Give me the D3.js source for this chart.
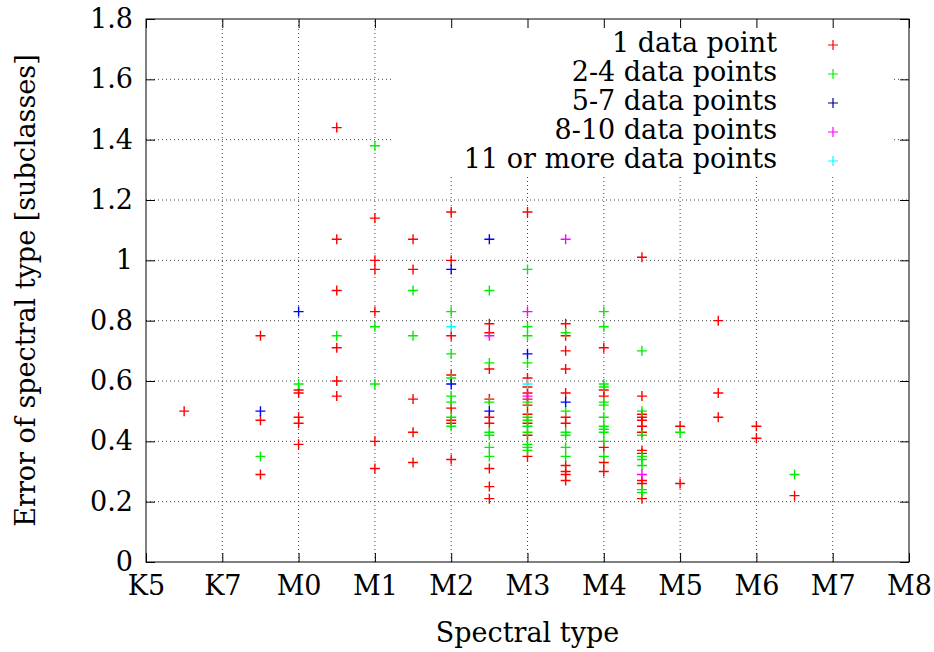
<!DOCTYPE html>
<html><head><meta charset="utf-8">
<script src="https://cdn.jsdelivr.net/npm/d3@7"></script>
<style>body{margin:0;background:#fff}</style>
</head><body>
<svg id="c" width="934" height="652"></svg>
<script>
// x values: spectral subclass relative to M0 (K5=-2, K7=-1, M0=0 ... M8=8)
const xTickValues = [-2,-1,0,1,2,3,4,5,6,7,8];
const xTickLabels = ["K5","K7","M0","M1","M2","M3","M4","M5","M6","M7","M8"];
const yTickValues = [0,0.2,0.4,0.6,0.8,1,1.2,1.4,1.6,1.8];
const seriesNames = ["1 data point","2-4 data points","5-7 data points","8-10 data points","11 or more data points"];
const seriesColors = ["#ff0000","#00ee00","#0000ff","#ff00ff","#00ffff"];
const legendColors = ["#ff0000","#00ee00","#00008b","#ff00ff","#00ffff"];

const onePoint = [
 [-1.5,0.50],
 [-0.5,0.75],[-0.5,0.47],[-0.5,0.29],
 [0,0.57],[0,0.56],[0,0.48],[0,0.46],[0,0.39],
 [0.5,1.44],[0.5,1.07],[0.5,0.90],[0.5,0.71],[0.5,0.60],[0.5,0.55],
 [1,1.14],[1,1.00],[1,0.97],[1,0.83],[1,0.40],[1,0.31],
 [1.5,1.07],[1.5,0.97],[1.5,0.54],[1.5,0.43],[1.5,0.33],
 [2,1.16],[2,1.00],[2,0.75],[2,0.62],[2,0.51],[2,0.47],[2,0.46],[2,0.34],
 [2.5,0.79],[2.5,0.76],[2.5,0.64],[2.5,0.54],[2.5,0.48],[2.5,0.46],[2.5,0.31],[2.5,0.25],[2.5,0.21],
 [3,1.16],[3,0.61],[3,0.58],[3,0.56],[3,0.54],[3,0.52],[3,0.49],[3,0.46],[3,0.42],[3,0.35],
 [3.5,0.79],[3.5,0.75],[3.5,0.70],[3.5,0.64],[3.5,0.56],[3.5,0.48],[3.5,0.46],[3.5,0.32],[3.5,0.30],[3.5,0.29],[3.5,0.27],
 [4,0.71],[4,0.57],[4,0.55],[4,0.38],[4,0.33],[4,0.30],
 [4.5,1.01],[4.5,0.55],[4.5,0.49],[4.5,0.48],[4.5,0.47],[4.5,0.45],[4.5,0.43],[4.5,0.37],[4.5,0.36],[4.5,0.27],[4.5,0.26],[4.5,0.21],
 [5,0.45],[5,0.26],
 [5.5,0.80],[5.5,0.56],[5.5,0.48],
 [6,0.45],[6,0.41],
 [6.5,0.22]
];
const twoToFour = [
 [-0.5,0.35],
 [0,0.59],
 [0.5,0.75],
 [1,1.38],[1,0.78],[1,0.59],
 [1.5,0.90],[1.5,0.75],
 [2,0.83],[2,0.69],[2,0.61],[2,0.55],[2,0.53],[2,0.48],[2,0.45],
 [2.5,0.90],[2.5,0.66],[2.5,0.53],[2.5,0.43],[2.5,0.42],[2.5,0.38],[2.5,0.35],
 [3,0.97],[3,0.78],[3,0.75],[3,0.66],[3,0.53],[3,0.48],[3,0.47],[3,0.45],[3,0.43],[3,0.39],[3,0.38],[3,0.37],
 [3.5,0.76],[3.5,0.50],[3.5,0.43],[3.5,0.42],[3.5,0.38],[3.5,0.35],
 [4,0.83],[4,0.78],[4,0.59],[4,0.58],[4,0.53],[4,0.52],[4,0.48],[4,0.45],[4,0.44],[4,0.43],[4,0.40],[4,0.35],
 [4.5,0.70],[4.5,0.50],[4.5,0.42],[4.5,0.35],[4.5,0.34],[4.5,0.32],[4.5,0.24],[4.5,0.23],
 [5,0.43],
 [6.5,0.29]
];
const fiveToSeven = [[-0.5,0.50],[0,0.83],[2,0.97],[2,0.59],[2.5,1.07],[2.5,0.50],[3,0.69],[3.5,0.53]];
const eightToTen = [[2.5,0.75],[3,0.83],[3,0.55],[3.5,1.07],[4.5,0.29]];
const elevenPlus = [[2,0.78],[3,0.59]];
const allSeries = [onePoint, twoToFour, fiveToSeven, eightToTen, elevenPlus];

const svg = d3.select("#c");
const L=146, R=909, T=19, B=562;
const x = d3.scaleLinear().domain([-2,8]).range([L,R]);
const y = d3.scaleLinear().domain([0,1.8]).range([B,T]);
const font = "DejaVu Serif";
const fs = 27;

// grid
const grid = svg.append("g").attr("stroke","#444").attr("stroke-width",1).attr("stroke-dasharray","1,3");
xTickValues.slice(1,-1).forEach(v=>grid.append("line").attr("x1",x(v)).attr("x2",x(v)).attr("y1",B).attr("y2",T));
yTickValues.slice(1,-1).forEach(v=>grid.append("line").attr("x1",L).attr("x2",R).attr("y1",y(v)).attr("y2",y(v)));
// legend background mask
svg.append("rect").attr("x",392).attr("y",T+1).attr("width",501).attr("height",154).attr("fill","#fff");

// axes
const tl = 9;
svg.append("g").attr("transform",`translate(0,${B})`)
  .call(d3.axisBottom(x).tickValues(xTickValues).tickFormat((d,i)=>xTickLabels[i]).tickSizeInner(-tl).tickSizeOuter(0).tickPadding(14));
svg.append("g").attr("transform",`translate(0,${T})`)
  .call(d3.axisTop(x).tickValues(xTickValues).tickFormat("").tickSizeInner(-tl).tickSizeOuter(0));
svg.append("g").attr("transform",`translate(${L},0)`)
  .call(d3.axisLeft(y).tickValues(yTickValues).tickFormat(d3.format("~g")).tickSizeInner(-tl).tickSizeOuter(0).tickPadding(13));
svg.append("g").attr("transform",`translate(${R},0)`)
  .call(d3.axisRight(y).tickValues(yTickValues).tickFormat("").tickSizeInner(-tl).tickSizeOuter(0));
svg.selectAll(".domain").remove();
svg.selectAll(".tick line").attr("stroke","#000");
svg.selectAll(".tick text").attr("font-family",font).attr("font-size",fs).attr("fill","#000");
svg.append("rect").attr("x",L).attr("y",T).attr("width",R-L).attr("height",B-T).attr("fill","none").attr("stroke","#000").attr("stroke-width",1);

// points
const plus = "M-5,0H5M0,-5V5";
allSeries.forEach((s,i)=>{
  svg.append("g").selectAll("path").data(s).join("path")
    .attr("d",plus).attr("transform",d=>`translate(${x(d[0])},${y(d[1])})`)
    .attr("stroke",seriesColors[i]).attr("stroke-width",1.4).attr("fill","none");
});

// legend
seriesNames.forEach((n,i)=>{
  const yy = 42 + i*29;
  svg.append("text").attr("x",777).attr("y",yy).attr("text-anchor","end").attr("dominant-baseline","central")
    .attr("font-family",font).attr("font-size",fs).text(n);
  svg.append("path").attr("d",plus).attr("transform",`translate(833,${yy+3})`)
    .attr("stroke",legendColors[i]).attr("stroke-width",1.2).attr("fill","none");
});

// axis titles
svg.append("text").attr("x",(L+R)/2).attr("y",642).attr("text-anchor","middle")
  .attr("font-family",font).attr("font-size",fs).text("Spectral type");
svg.append("text").attr("transform",`translate(35,${(T+B)/2}) rotate(-90)`).attr("text-anchor","middle")
  .attr("font-family",font).attr("font-size",fs).text("Error of spectral type [subclasses]");
</script>
</body></html>
